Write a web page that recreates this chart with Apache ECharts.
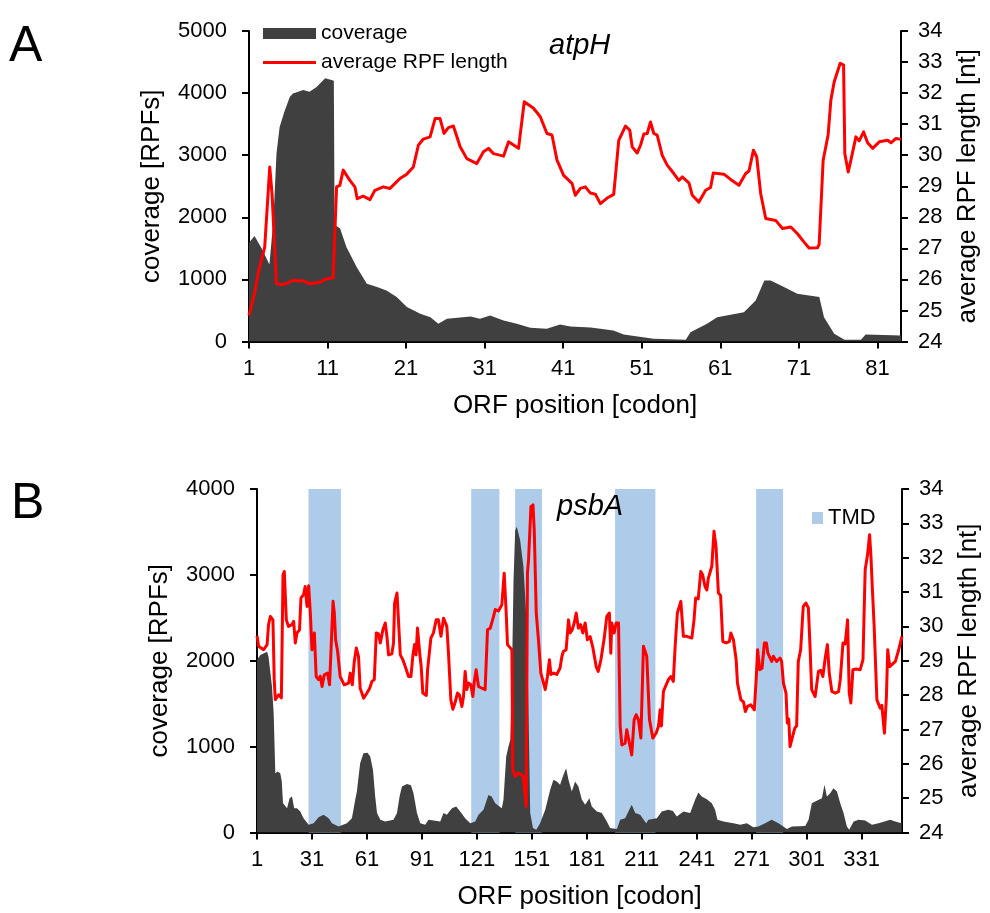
<!DOCTYPE html>
<html>
<head>
<meta charset="utf-8">
<script src="https://cdn.jsdelivr.net/npm/echarts@6/dist/echarts.min.js"></script>
<style>html,body{margin:0;padding:0;background:#fff}#c{width:990px;height:913px}</style>
</head>
<body>
<div id="c"></div>
<script>
// ---------- DATA ----------
const atpHTicks = [1, 11, 21, 31, 41, 51, 61, 71, 81];
const psbATicks = [1, 31, 61, 91, 121, 151, 181, 211, 241, 271, 301, 331];

// atpH coverage [codon, RPFs]
const atpHCoverage = [[1.0,1590],[1.7,1700],[2.6,1500],[3.6,1240],[4.1,1950],[4.5,3030],[4.9,3455],[5.5,3700],[6.2,3940],[6.6,3995],[7.9,4050],[8.7,4020],[9.6,4100],[10.7,4240],[11.5,4210],[11.8,4200],[11.9,1880],[12.6,1820],[13.4,1520],[14.7,1200],[16.0,930],[17.3,876],[18.5,823],[19.8,715],[21.1,554],[22.8,447],[24.1,392],[25.1,285],[26.2,366],[29.2,403],[30.4,366],[31.7,420],[33.4,339],[35.1,285],[36.8,221],[38.9,204],[40.6,274],[41.9,242],[44.5,225],[47.4,177],[48.7,113],[52.5,43],[56.6,30],[57.2,150],[59.3,285],[60.6,392],[64.0,473],[65.5,661],[66.6,984],[67.4,984],[69.1,876],[70.8,768],[73.6,715],[74.2,392],[75.5,124],[76.8,30],[78.9,30],[79.5,113],[84.0,97]];

// atpH average RPF length [codon, nt]
const atpHLength = [[1.0,24.84],[1.7,25.54],[2.15,26.18],[3.0,27.04],[3.64,29.62],[3.93,28.77],[4.49,25.86],[5.34,25.83],[6.61,25.97],[7.89,25.95],[8.74,25.86],[10.02,25.91],[10.87,26.02],[11.71,26.05],[12.15,28.98],[12.57,29.03],[12.99,29.52],[13.84,29.19],[14.48,28.98],[14.78,28.6],[15.54,28.68],[16.4,28.57],[17.03,28.87],[18.09,28.98],[18.95,28.93],[20.22,29.25],[21.08,29.39],[21.92,29.62],[22.56,30.32],[23.19,30.52],[24.05,30.59],[24.69,31.18],[25.32,31.18],[25.83,30.7],[26.38,30.89],[27.02,30.94],[27.88,30.27],[28.73,29.89],[30.0,29.73],[30.85,30.11],[31.49,30.22],[32.12,30.05],[33.4,29.97],[34.04,30.43],[35.31,30.22],[36.04,31.72],[37.22,31.51],[38.08,31.24],[38.93,30.7],[39.57,30.65],[40.21,29.84],[41.05,29.35],[42.12,29.09],[42.54,28.71],[43.18,28.93],[43.82,28.98],[44.46,28.78],[45.1,28.74],[45.73,28.44],[46.59,28.62],[47.43,28.74],[48.07,30.48],[48.92,30.94],[49.47,30.81],[49.78,30.27],[50.41,30.07],[50.84,30.32],[51.26,30.68],[51.69,30.7],[52.11,31.07],[52.53,30.7],[52.96,30.65],[53.6,30.0],[54.24,29.68],[55.08,29.41],[55.72,29.19],[56.15,29.3],[57.0,29.11],[57.43,28.71],[58.27,28.49],[59.13,28.87],[59.76,28.96],[60.11,29.43],[61.46,29.39],[62.31,29.22],[63.37,29.03],[64.23,29.41],[64.65,29.49],[65.21,30.16],[65.63,29.95],[66.14,28.76],[66.78,27.96],[68.05,27.9],[68.91,27.64],[69.97,27.69],[70.82,27.47],[71.66,27.2],[72.3,27.01],[73.37,27.02],[73.58,27.13],[74.09,29.84],[74.72,30.65],[75.07,31.77],[75.49,32.36],[76.26,32.96],[76.69,32.9],[76.85,30.05],[77.28,29.46],[77.62,29.84],[78.26,30.59],[78.68,30.46],[79.24,30.75],[79.75,30.4],[80.39,30.22],[81.23,30.43],[82.3,30.48],[82.72,30.4],[83.36,30.54],[84.0,30.51]];

// psbA coverage [codon, RPFs]
const psbACoverage = [[1,2008],[2.8,2067],[6.5,2105],[7.3,2047],[9.2,1698],[10.1,1389],[11.0,691],[12.2,710],[13.7,691],[14.5,600],[15.2,342],[17.4,283],[18.8,400],[20.1,419],[21.3,283],[22.8,283],[24.6,244],[26.4,167],[29.2,90],[31.9,109],[34.6,179],[37.3,206],[40.1,167],[41.9,109],[45.5,70],[50.1,109],[52.8,167],[54.6,380],[55.5,477],[57.3,807],[59.1,923],[61.3,930],[62.8,884],[64.3,729],[65.5,419],[66.5,226],[68.3,148],[71.0,128],[75.5,148],[77.4,226],[78.8,419],[80.1,535],[82.8,566],[85.0,550],[86.4,458],[88.3,226],[90.1,109],[92.8,90],[94.6,148],[97.3,140],[101.0,128],[102.8,226],[104.6,206],[107.4,283],[109.7,302],[111.9,244],[114.6,167],[117.4,109],[120.1,128],[121.9,206],[124.6,264],[127.3,438],[129.0,420],[131.0,342],[134.6,283],[135.5,380],[137.0,884],[138.2,1000],[139.2,1078],[140.1,1776],[141.0,2939],[141.9,3520],[142.8,3559],[144.6,3404],[146.4,3094],[148.3,2396],[149.2,1389],[150.1,226],[151.6,51],[153.4,31],[155.5,109],[158.3,264],[161.0,497],[162.8,613],[164.6,594],[166.4,555],[168.2,671],[169.7,749],[171.0,613],[172.8,477],[174.6,594],[176.4,535],[178.3,380],[180.1,322],[182.4,400],[183.7,302],[186.5,244],[189.2,226],[191.9,128],[193.7,51],[197.4,40],[199.2,148],[201.9,167],[203.7,244],[205.5,322],[207.4,226],[210.1,206],[213.4,109],[214.6,148],[219.2,167],[221.9,244],[225.5,264],[228.0,250],[230.1,186],[233.7,244],[237.4,226],[240.1,380],[241.9,465],[243.7,419],[246.5,388],[249.2,342],[251.0,264],[252.3,148],[255.6,128],[261.0,109],[264.7,90],[268.3,109],[271.9,62],[274.6,70],[278.3,109],[281.9,148],[285.6,109],[290.2,40],[292.9,70],[300.2,75],[302.0,148],[303.8,342],[305.6,361],[309.3,400],[310.7,555],[312.0,419],[313.8,458],[315.6,516],[317.5,477],[319.3,342],[321.1,226],[322.9,70],[324.2,31],[326.6,128],[329.3,148],[332.9,140],[336.6,90],[340.2,109],[346.6,148],[349.3,128],[352.8,109]];

// psbA average RPF length [codon, nt]
const psbALength = [[1,29.73],[1.9,29.42],[4.6,29.32],[6.5,29.47],[7.3,30.05],[8.3,30.29],[9.7,30.19],[10.4,28.45],[11.0,27.87],[12.8,28.01],[14.3,27.92],[15.2,31.5],[15.9,31.6],[17.0,30.19],[18.2,30.0],[20.1,30.05],[21.0,30.15],[21.9,29.52],[22.8,29.81],[24.2,29.9],[25.0,30.83],[26.4,30.92],[27.3,31.16],[28.3,30.58],[29.2,31.18],[30.1,30.39],[31.0,29.32],[32.3,29.81],[33.3,28.54],[34.6,28.45],[35.5,28.55],[36.5,28.25],[37.7,28.59],[39.5,28.64],[40.6,28.3],[41.4,29.32],[42.5,30.73],[43.2,30.39],[43.9,29.61],[45.0,29.27],[46.4,28.54],[47.3,28.5],[48.6,28.3],[51.0,28.35],[51.9,28.64],[53.0,28.3],[54.1,28.98],[55.2,29.37],[56.4,29.13],[57.3,28.2],[59.2,27.91],[61.0,28.06],[62.5,28.2],[63.7,28.4],[65.0,28.45],[66.1,29.81],[67.3,29.78],[68.3,29.52],[69.7,29.9],[71.0,30.1],[71.9,29.71],[72.8,29.17],[74.6,29.2],[75.5,29.52],[76.1,30.68],[77.4,30.97],[78.2,30.19],[79.2,29.17],[80.6,29.03],[81.9,28.83],[83.7,28.54],[85.0,28.54],[86.1,29.17],[87.0,29.47],[87.8,29.17],[88.6,29.95],[89.7,29.27],[90.6,28.83],[91.5,28.06],[93.4,27.99],[94.1,28.74],[95.0,28.78],[95.9,29.66],[97.3,29.81],[98.8,30.19],[100.0,30.19],[101.4,29.71],[102.8,30.24],[104.6,30.0],[105.5,29.22],[106.8,27.86],[107.9,27.59],[109.2,27.8],[110.4,28.06],[111.5,28.0],[112.8,27.67],[113.7,27.96],[114.6,28.69],[115.5,28.16],[116.4,28.35],[117.7,28.3],[118.8,27.96],[119.5,28.35],[120.6,28.74],[121.9,28.25],[123.7,28.2],[125.5,28.16],[126.8,29.9],[128.3,29.95],[130.1,30.29],[131.0,30.49],[132.8,30.45],[134.6,30.63],[135.9,31.55],[137.0,30.39],[137.7,29.47],[140.1,29.32],[140.6,25.83],[141.9,25.63],[143.7,25.73],[145.5,25.68],[146.4,25.6],[147.9,24.76],[148.6,31.55],[149.2,31.94],[150.5,33.49],[151.6,33.54],[152.3,32.81],[153.4,30.39],[154.6,29.61],[155.9,28.64],[157.4,28.35],[158.3,28.16],[159.5,28.54],[160.6,29.03],[161.4,28.6],[162.8,28.64],[164.6,28.6],[166.4,28.79],[167.4,29.13],[168.2,29.27],[169.7,29.32],[171.0,30.19],[171.9,29.81],[173.0,29.9],[174.1,30.1],[175.2,30.39],[176.4,29.95],[177.6,30.05],[178.8,29.81],[180.1,30.1],[181.3,29.61],[182.8,29.7],[184.3,29.38],[186.1,28.83],[187.2,28.69],[188.7,29.03],[190.5,29.66],[191.9,30.29],[193.3,30.39],[194.1,29.22],[194.6,30.1],[195.9,29.81],[197.0,30.1],[198.3,30.1],[199.2,27.09],[200.1,26.55],[201.9,26.6],[202.8,26.99],[203.7,26.75],[205.5,26.26],[206.8,27.28],[207.9,27.43],[209.2,27.28],[210.5,26.75],[211.9,29.42],[212.3,29.47],[213.7,29.13],[215.2,27.28],[217.0,26.75],[218.8,26.89],[220.1,27.09],[221.0,27.57],[221.7,27.1],[222.8,28.11],[224.3,28.3],[225.5,28.45],[226.8,28.54],[228.2,28.4],[229.2,29.42],[230.4,30.39],[232.3,30.73],[233.7,29.71],[235.5,29.71],[238.3,29.66],[239.5,30.19],[240.4,30.83],[241.8,30.8],[243.2,31.6],[244.2,31.5],[245.5,31.16],[246.5,31.06],[247.3,31.4],[249.2,31.75],[250.4,32.77],[251.5,32.33],[252.8,30.97],[254.0,30.9],[255.2,29.56],[257.0,29.52],[258.8,29.56],[259.6,29.81],[261.0,29.61],[262.5,29.03],[263.2,28.35],[264.2,28.3],[265.1,27.86],[266.5,27.8],[267.5,27.52],[268.7,27.67],[270.5,27.72],[272.4,27.57],[273.4,28.45],[274.2,29.32],[275.3,28.74],[276.6,28.78],[277.9,29.52],[279.0,29.52],[279.8,29.22],[281.9,28.98],[282.8,29.13],[284.6,28.98],[286.4,29.08],[287.3,28.98],[288.3,28.35],[289.7,28.06],[290.4,27.19],[291.2,27.3],[291.9,26.5],[293.3,26.8],[294.5,27.04],[295.5,27.1],[296.4,28.98],[297.7,29.32],[299.1,30.58],[300.6,30.68],[301.9,30.54],[302.8,29.42],[303.7,28.16],[305.6,27.96],[307.4,28.69],[308.6,28.72],[309.8,28.54],[311.1,29.08],[312.3,29.47],[313.3,28.64],[314.7,28.11],[316.6,28.06],[318.4,28.1],[319.3,28.45],[320.8,29.52],[322.0,29.49],[323.3,30.19],[324.2,28.06],[325.1,27.77],[326.2,28.74],[328.0,28.76],[330.2,28.74],[331.7,29.03],[332.9,31.65],[334.2,32.09],[335.3,32.67],[336.0,32.1],[336.6,31.36],[337.8,30.0],[339.3,27.86],[341.1,27.62],[342.0,27.7],[343.4,26.89],[344.5,27.96],[345.2,29.32],[346.3,28.83],[347.8,28.9],[349.4,28.98],[351.2,29.32],[353.0,29.71]];

// psbA transmembrane domains [start codon, end codon]
const psbATMD = [[29.1,46.8],[117.9,133.3],[141.9,156.5],[196.4,218.4],[273.4,288.1]];

// ---------- CHART ----------
const FONT = "'Liberation Sans', Arial, sans-serif";
const BLACK = '#000';
const chart = echarts.init(document.getElementById('c'), null, {renderer: 'canvas'});

function xAxisDef(gridIndex, min, max, ticks) {
  return {
    type: 'value', gridIndex, min, max,
    name: 'ORF position [codon]', nameLocation: 'middle', nameGap: 51,
    nameTextStyle: {fontSize: 26, color: BLACK, fontFamily: FONT},
    axisLine: {show: true, onZero: false, lineStyle: {color: BLACK, width: 2}},
    axisTick: {show: true, customValues: ticks, length: 7, lineStyle: {color: BLACK, width: 2}},
    axisLabel: {show: true, customValues: ticks, margin: 16, fontSize: 22, color: BLACK, fontFamily: FONT,
      formatter: v => String(Math.round(v))},
    splitLine: {show: false}
  };
}
function yAxisDef(gridIndex, position, min, max, interval, name, nameGap, margin) {
  return {
    type: 'value', gridIndex, position, min, max, interval,
    name, nameLocation: 'middle', nameGap,
    nameTextStyle: {fontSize: 26, color: BLACK, fontFamily: FONT},
    axisLine: {show: true, lineStyle: {color: BLACK, width: 2}},
    axisTick: {show: true, length: 7, lineStyle: {color: BLACK, width: 2}},
    axisLabel: {show: true, margin, fontSize: 22, color: BLACK, fontFamily: FONT,
      formatter: v => String(Math.round(v))},
    splitLine: {show: false}
  };
}

const option = {
  animation: false,
  backgroundColor: '#fff',
  textStyle: {fontFamily: FONT},
  title: [
    {text: 'A', left: 9, top: 22, padding: 0, textStyle: {fontSize: 50, fontWeight: 'normal', color: BLACK, fontFamily: FONT}},
    {text: 'B', left: 11, top: 479, padding: 0, textStyle: {fontSize: 50, fontWeight: 'normal', color: BLACK, fontFamily: FONT}},
    {text: 'atpH', left: 549, top: 31, padding: 0, textStyle: {fontSize: 29, fontStyle: 'italic', fontWeight: 'normal', color: BLACK, fontFamily: FONT}},
    {text: 'psbA', left: 557, top: 492, padding: 0, textStyle: {fontSize: 29, fontStyle: 'italic', fontWeight: 'normal', color: BLACK, fontFamily: FONT}}
  ],
  legend: [
    {
      orient: 'vertical', left: 263, top: 23, padding: 0, itemGap: 8,
      itemWidth: 53, itemHeight: 11,
      textStyle: {fontSize: 21, color: BLACK, fontFamily: FONT},
      data: [
        {name: 'coverage', icon: 'rect'},
        {name: 'average RPF length', icon: 'path://M0 0H53V3.2H0Z'}
      ]
    },
    {
      orient: 'vertical', left: 812, top: 507, padding: 0,
      itemWidth: 11, itemHeight: 12,
      textStyle: {fontSize: 22, color: BLACK, fontFamily: FONT},
      data: [{name: 'TMD', icon: 'rect'}]
    }
  ],
  grid: [
    {left: 249, right: 89, top: 31, height: 310.5},
    {left: 257, right: 88, top: 489, height: 343.5}
  ],
  xAxis: [
    xAxisDef(0, 1, 84, atpHTicks),
    xAxisDef(1, 1, 353, psbATicks)
  ],
  yAxis: [
    yAxisDef(0, 'left', 0, 5000, 1000, 'coverage [RPFs]', 84, 22),
    yAxisDef(0, 'right', 24, 34, 1, 'average RPF length [nt]', 54, 17),
    yAxisDef(1, 'left', 0, 4000, 1000, 'coverage [RPFs]', 84, 22),
    yAxisDef(1, 'right', 24, 34, 1, 'average RPF length [nt]', 54, 17)
  ],
  series: [
    {
      name: 'coverage', type: 'line', xAxisIndex: 0, yAxisIndex: 0,
      data: atpHCoverage, symbol: 'none', z: 2,
      itemStyle: {color: '#404040'}, lineStyle: {width: 0, color: '#404040'},
      areaStyle: {color: '#404040', opacity: 1}
    },
    {
      name: 'average RPF length', type: 'line', xAxisIndex: 0, yAxisIndex: 1,
      data: atpHLength, symbol: 'none', z: 3,
      itemStyle: {color: '#ff0000'}, lineStyle: {width: 3, color: '#ff0000', join: 'round'}
    },
    {
      name: 'TMD', type: 'custom', xAxisIndex: 1, yAxisIndex: 2,
      data: psbATMD, z: 1, encode: {x: [0, 1]},
      itemStyle: {color: '#aecbea'},
      renderItem: function (params, api) {
        const p0 = api.coord([api.value(0), 4000]);
        const p1 = api.coord([api.value(1), 0]);
        return {
          type: 'rect',
          shape: {x: p0[0], y: p0[1], width: p1[0] - p0[0], height: p1[1] - p0[1]},
          style: {fill: '#aecbea'}
        };
      }
    },
    {
      name: 'psbA coverage', type: 'line', xAxisIndex: 1, yAxisIndex: 2,
      data: psbACoverage, symbol: 'none', z: 2,
      itemStyle: {color: '#404040'}, lineStyle: {width: 0, color: '#404040'},
      areaStyle: {color: '#404040', opacity: 1}
    },
    {
      name: 'psbA average RPF length', type: 'line', xAxisIndex: 1, yAxisIndex: 3,
      data: psbALength, symbol: 'none', z: 3,
      itemStyle: {color: '#ff0000'}, lineStyle: {width: 3, color: '#ff0000', join: 'round'}
    }
  ]
};
chart.setOption(option);
</script>
</body>
</html>
